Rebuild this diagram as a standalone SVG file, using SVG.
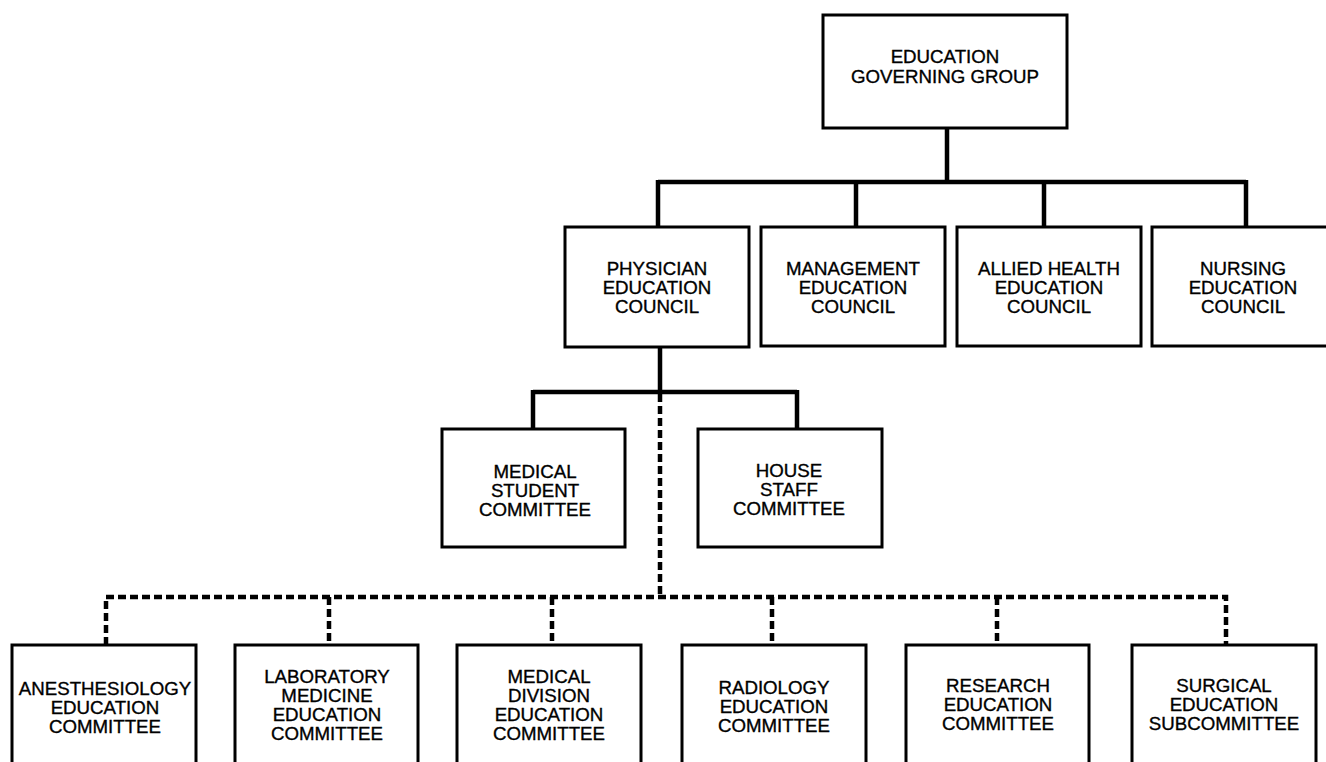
<svg xmlns="http://www.w3.org/2000/svg" width="1326" height="762" viewBox="0 0 1326 762">
<style>
.box{fill:#fff;stroke:#000;stroke-width:3}
.solid{fill:none;stroke:#000;stroke-width:4.5;stroke-linecap:butt}
.dot{fill:none;stroke:#000;stroke-width:4.5;stroke-dasharray:8 4}
text{font-family:"Liberation Sans",Arial,Helvetica,sans-serif;font-size:18.7px;fill:#000;stroke:#000;stroke-width:0.35;text-anchor:middle}
</style>
<rect width="1326" height="762" fill="#fff"/>
<g id="connectors">
<path class="solid" d="M947 128 V182 M658 182 H1246 M658 180 V227 M856 180 V227 M1044 180 V227 M1246 180 V227"/>
<path class="solid" d="M660 347 V392 M533 392 H797 M533 390 V429 M797 390 V429"/>
<path class="dot" d="M660 394 V597"/>
<path class="dot" d="M106 645 V597 H1226 V645"/>
<path class="dot" d="M329 597 V645 M552 597 V645 M772 597 V645 M997 597 V645"/>
</g>
<g id="n-egg"><rect class="box" x="823" y="15" width="244" height="113"/><text x="945" y="63">EDUCATION</text><text x="945" y="83">GOVERNING GROUP</text></g>
<g id="n-pec"><rect class="box" x="565" y="227" width="184" height="120"/><text x="657" y="275">PHYSICIAN</text><text x="657" y="294">EDUCATION</text><text x="657" y="313">COUNCIL</text></g>
<g id="n-mec"><rect class="box" x="761" y="227" width="184" height="119"/><text x="853" y="275">MANAGEMENT</text><text x="853" y="294">EDUCATION</text><text x="853" y="313">COUNCIL</text></g>
<g id="n-ahec"><rect class="box" x="957" y="227" width="184" height="119"/><text x="1049" y="275">ALLIED HEALTH</text><text x="1049" y="294">EDUCATION</text><text x="1049" y="313">COUNCIL</text></g>
<g id="n-nec"><rect class="box" x="1152" y="227" width="188" height="119"/><text x="1243" y="275">NURSING</text><text x="1243" y="294">EDUCATION</text><text x="1243" y="313">COUNCIL</text></g>
<g id="n-msc"><rect class="box" x="442" y="429" width="183" height="118"/><text x="535" y="478">MEDICAL</text><text x="535" y="497">STUDENT</text><text x="535" y="516">COMMITTEE</text></g>
<g id="n-hsc"><rect class="box" x="698" y="429" width="184" height="118"/><text x="789" y="477">HOUSE</text><text x="789" y="496">STAFF</text><text x="789" y="515">COMMITTEE</text></g>
<g id="n-anes"><rect class="box" x="12" y="645" width="184" height="140"/><text x="105" y="695">ANESTHESIOLOGY</text><text x="105" y="714">EDUCATION</text><text x="105" y="733">COMMITTEE</text></g>
<g id="n-lab"><rect class="box" x="235" y="645" width="183" height="140"/><text x="327" y="683">LABORATORY</text><text x="327" y="702">MEDICINE</text><text x="327" y="721">EDUCATION</text><text x="327" y="740">COMMITTEE</text></g>
<g id="n-med"><rect class="box" x="457" y="645" width="184" height="140"/><text x="549" y="683">MEDICAL</text><text x="549" y="702">DIVISION</text><text x="549" y="721">EDUCATION</text><text x="549" y="740">COMMITTEE</text></g>
<g id="n-rad"><rect class="box" x="682" y="645" width="184" height="140"/><text x="774" y="694">RADIOLOGY</text><text x="774" y="713">EDUCATION</text><text x="774" y="732">COMMITTEE</text></g>
<g id="n-res"><rect class="box" x="906" y="645" width="183" height="140"/><text x="998" y="692">RESEARCH</text><text x="998" y="711">EDUCATION</text><text x="998" y="730">COMMITTEE</text></g>
<g id="n-surg"><rect class="box" x="1132" y="645" width="184" height="140"/><text x="1224" y="692">SURGICAL</text><text x="1224" y="711">EDUCATION</text><text x="1224" y="730">SUBCOMMITTEE</text></g>
</svg>
